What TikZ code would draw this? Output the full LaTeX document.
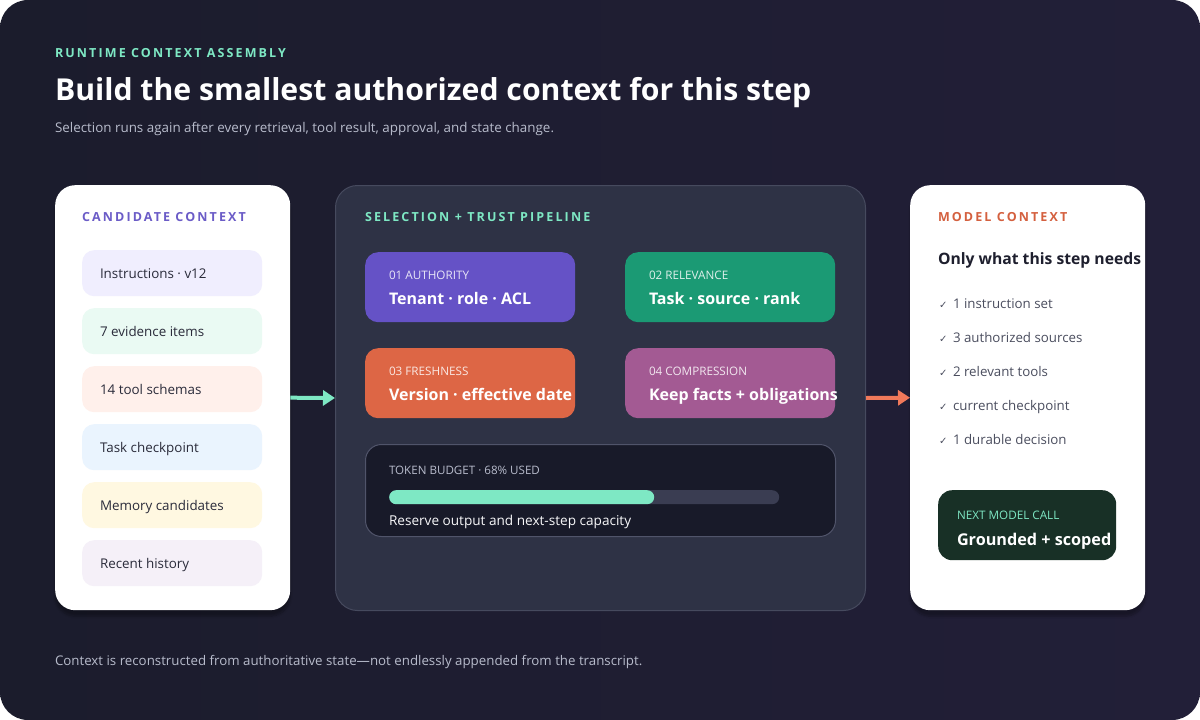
\documentclass[tikz,border=0pt]{standalone}
\usepackage{fontspec}
\setmainfont{Open Sans}
\newfontfamily\checkfont{DejaVu Sans}
\usetikzlibrary{arrows.meta,shadows.blur}
\definecolor{bgA}{HTML}{1B1C2C}
\definecolor{bgB}{HTML}{221F38}
\definecolor{mint}{HTML}{7EE8C4}
\definecolor{subgrey}{HTML}{B8BCCC}
\definecolor{purplelbl}{HTML}{6B5CC7}
\definecolor{itemtext}{HTML}{2A2B3A}
\definecolor{itA}{HTML}{F0EEFE}
\definecolor{itB}{HTML}{EAFAF3}
\definecolor{itC}{HTML}{FFF0EB}
\definecolor{itD}{HTML}{EAF4FE}
\definecolor{itE}{HTML}{FFF8E1}
\definecolor{itF}{HTML}{F5F0F8}
\definecolor{panel}{HTML}{2E3245}
\definecolor{panelborder}{HTML}{464A5E}
\definecolor{stA}{HTML}{6552C6}
\definecolor{stB}{HTML}{1B9A74}
\definecolor{stC}{HTML}{DD6645}
\definecolor{stD}{HTML}{A35A93}
\definecolor{budget}{HTML}{181A29}
\definecolor{budgetborder}{HTML}{50546A}
\definecolor{track}{HTML}{3A3D52}
\definecolor{orangearr}{HTML}{F0795A}
\definecolor{modellbl}{HTML}{D4603F}
\definecolor{darktext}{HTML}{1E1F2E}
\definecolor{listgrey}{HTML}{4A4D5E}
\definecolor{nextbg}{HTML}{183026}
\begin{document}
\begin{tikzpicture}[x=1pt,y=-1pt,
  txt/.style={anchor=base west, inner sep=0pt, outer sep=0pt},
  eyebrow/.style={txt, font=\fontsize{12.5}{14}\selectfont\bfseries\addfontfeature{LetterSpace=17}},
  card/.style={draw=none, fill=white, rounded corners=20pt, anchor=north west, inner sep=0pt,
     blur shadow={shadow blur steps=10, shadow xshift=0pt, shadow yshift=-6pt, shadow opacity=30}},
  itembox/.style={draw=none, rounded corners=12pt, anchor=north west, inner sep=0pt, minimum width=180, minimum height=46},
  itemtxt/.style={txt, font=\fontsize{13.4}{15}\selectfont, text=itemtext},
  stagebox/.style={draw=none, rounded corners=13pt, anchor=north west, inner sep=0pt, minimum width=210, minimum height=70},
  stagelbl/.style={txt, font=\fontsize{11.7}{13}\selectfont, text=white, opacity=0.85},
  stagetxt/.style={txt, font=\fontsize{16}{19}\selectfont\bfseries, text=white},
  listtxt/.style={txt, font=\fontsize{13.3}{15}\selectfont, text=listgrey},
  checkmk/.style={txt, font=\checkfont\fontsize{10}{12}\selectfont, text=listgrey},
  arr/.style={line width=4pt, -{Triangle[length=12pt,width=15pt]}}
]
\useasboundingbox (0,0) rectangle (1200,720);
\fill[white] (0,0) rectangle (1200,720);
\shade[rounded corners=28pt, left color=bgA, right color=bgB] (0,0) rectangle (1200,720);

% header
\node[eyebrow, text=mint] (eyebrow) at (55,57) {RUNTIME CONTEXT ASSEMBLY};
\node[txt, font=\fontsize{30.2}{34}\selectfont\bfseries, text=white] (title) at (55,100) {Build the smallest authorized context for this step};
\node[txt, font=\fontsize{13.4}{15}\selectfont, text=subgrey] (subtitle) at (55,132) {Selection runs again after every retrieval, tool result, approval, and state change.};

% left card
\node[card, minimum width=235, minimum height=425] (left) at (55,185) {};
\node[eyebrow, text=purplelbl] (leftlbl) at (82,221) {CANDIDATE CONTEXT};
\node[itembox, fill=itA] (i1) at (82,250) {};
\node[itembox, fill=itB] (i2) at (82,308) {};
\node[itembox, fill=itC] (i3) at (82,366) {};
\node[itembox, fill=itD] (i4) at (82,424) {};
\node[itembox, fill=itE] (i5) at (82,482) {};
\node[itembox, fill=itF] (i6) at (82,540) {};
\node[itemtxt] (t1) at (100,278) {Instructions · v12};
\node[itemtxt] (t2) at (100,336) {7 evidence items};
\node[itemtxt] (t3) at (100,394) {14 tool schemas};
\node[itemtxt] (t4) at (100,452) {Task checkpoint};
\node[itemtxt] (t5) at (100,510) {Memory candidates};
\node[itemtxt] (t6) at (100,568) {Recent history};

% middle panel
\node[draw=panelborder, line width=1pt, fill=panel, rounded corners=22pt, anchor=north west, inner sep=0pt,
      minimum width=530, minimum height=425] (mid) at (335,185) {};
\node[eyebrow, text=mint] (midlbl) at (365,221) {SELECTION + TRUST PIPELINE};
\node[stagebox, fill=stA] (s1) at (365,252) {};
\node[stagebox, fill=stB] (s2) at (625,252) {};
\node[stagebox, fill=stC] (s3) at (365,348) {};
\node[stagebox, fill=stD] (s4) at (625,348) {};
\node[stagelbl] (s1l) at (389,279) {01 AUTHORITY};
\node[stagetxt] (s1t) at (389,304) {Tenant · role · ACL};
\node[stagelbl] (s2l) at (649,279) {02 RELEVANCE};
\node[stagetxt] (s2t) at (649,304) {Task · source · rank};
\node[stagelbl] (s3l) at (389,375) {03 FRESHNESS};
\node[stagetxt] (s3t) at (389,400) {Version · effective date};
\node[stagelbl] (s4l) at (649,375) {04 COMPRESSION};
\node[stagetxt] (s4t) at (649,400) {Keep facts + obligations};

\node[draw=budgetborder, line width=1pt, fill=budget, rounded corners=16pt, anchor=north west, inner sep=0pt,
      minimum width=470, minimum height=92] (budget) at (365,444) {};
\node[txt, font=\fontsize{11.6}{13}\selectfont, text=subgrey] (budgetlbl) at (389,474) {TOKEN BUDGET · 68\% USED};
\node[fill=track, rounded corners=7pt, anchor=north west, inner sep=0pt, minimum width=390, minimum height=14] (track) at (389,490) {};
\node[fill=mint, rounded corners=7pt, anchor=north west, inner sep=0pt, minimum width=265, minimum height=14] (used) at (389,490) {};
\node[txt, font=\fontsize{13.6}{15}\selectfont, text=white!88!subgrey] (budgettxt) at (389,525) {Reserve output and next-step capacity};

% right card
\node[card, minimum width=235, minimum height=425] (right) at (910,185) {};
\node[eyebrow, text=modellbl] (rightlbl) at (938,221) {MODEL CONTEXT};
\node[txt, font=\fontsize{15.7}{19}\selectfont\bfseries, text=darktext] (righthead) at (938,264) {Only what this step needs};
\node[checkmk] (c1) at (939,308) {✓};
\node[listtxt] (l1) at (953,308) {1 instruction set};
\node[checkmk] (c2) at (939,342) {✓};
\node[listtxt] (l2) at (953,342) {3 authorized sources};
\node[checkmk] (c3) at (939,376) {✓};
\node[listtxt] (l3) at (953,376) {2 relevant tools};
\node[checkmk] (c4) at (939,410) {✓};
\node[listtxt] (l4) at (953,410) {current checkpoint};
\node[checkmk] (c5) at (939,444) {✓};
\node[listtxt] (l5) at (953,444) {1 durable decision};
\node[fill=nextbg, rounded corners=14pt, anchor=north west, inner sep=0pt, minimum width=178, minimum height=70] (next) at (938,490) {};
\node[txt, font=\fontsize{11.7}{13}\selectfont, text=mint] (nextlbl) at (957,519) {NEXT MODEL CALL};
\node[txt, font=\fontsize{16.2}{19}\selectfont\bfseries, text=white] (nexttxt) at (957,545) {Grounded + scoped};

% arrows
\draw[arr, draw=mint, fill=mint] (left.east) -- (mid.west);
\draw[arr, draw=orangearr, fill=orangearr] (mid.east) -- (right.west);

% footer
\node[txt, font=\fontsize{13.3}{15}\selectfont, text=subgrey] (footer) at (55,665) {Context is reconstructed from authoritative state—not endlessly appended from the transcript.};
\end{tikzpicture}
\end{document}
